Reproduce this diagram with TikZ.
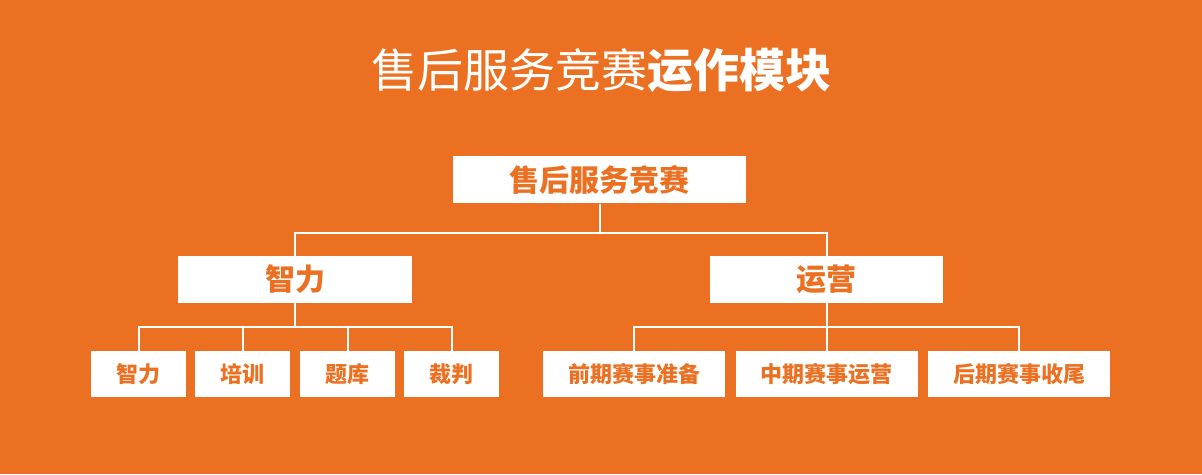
\documentclass[tikz,border=0pt]{standalone}
\usepackage{fontspec}
\newfontfamily\cjk{Noto Sans CJK SC}
\definecolor{bgorange}{RGB}{236,112,33}
\begin{document}
\begin{tikzpicture}[x=1pt, y=1pt,
  box/.style={fill=white, text=bgorange, inner sep=0pt, font=\cjk\bfseries},
  bigbox/.style={box, minimum height=47, font=\cjk\bfseries\fontsize{30}{30}\selectfont},
  smallbox/.style={box, minimum height=46, font=\cjk\bfseries\fontsize{22}{22}\selectfont},
  link/.style={draw=white, line width=2pt}]
\fill[bgorange] (0,0) rectangle (1202,474);
\useasboundingbox (0,0) rectangle (1202,474);
\node[text=white, font=\cjk\fontsize{46}{46}\selectfont] (title) at (601,404) {售后服务竞赛\textbf{运作模块}};
\node[bigbox, minimum width=293] (top) at (599.5,294) {售后服务竞赛};
\node[bigbox, minimum width=234] (zl) at (295,194.5) {智力};
\node[bigbox, minimum width=233] (yy) at (826.5,194.5) {运营};
\node[smallbox, minimum width=95] (zl1) at (138.5,100) {智力};
\node[smallbox, minimum width=95] (zl2) at (242.5,100) {培训};
\node[smallbox, minimum width=95] (zl3) at (347.5,100) {题库};
\node[smallbox, minimum width=95] (zl4) at (451.5,100) {裁判};
\node[smallbox, minimum width=182] (yy1) at (634,100) {前期赛事准备};
\node[smallbox, minimum width=182] (yy2) at (826.5,100) {中期赛事运营};
\node[smallbox, minimum width=182] (yy3) at (1019,100) {后期赛事收尾};
\coordinate (topjoin) at (top.south |- 0,241);
\draw[link] (top.south) -- (topjoin) -| (zl.north);
\draw[link] (topjoin) -| (yy.north);
\coordinate (zljoin) at (zl.south |- 0,147);
\draw[link] (zl.south) -- (zljoin) -| (zl1.north);
\draw[link] (zljoin) -| (zl2.north);
\draw[link] (zljoin) -| (zl3.north);
\draw[link] (zljoin) -| (zl4.north);
\coordinate (yyjoin) at (yy.south |- 0,147);
\draw[link] (yy.south) -- (yyjoin) -| (yy1.north);
\draw[link] (yyjoin) -| (yy2.north);
\draw[link] (yyjoin) -| (yy3.north);
\end{tikzpicture}
\end{document}
